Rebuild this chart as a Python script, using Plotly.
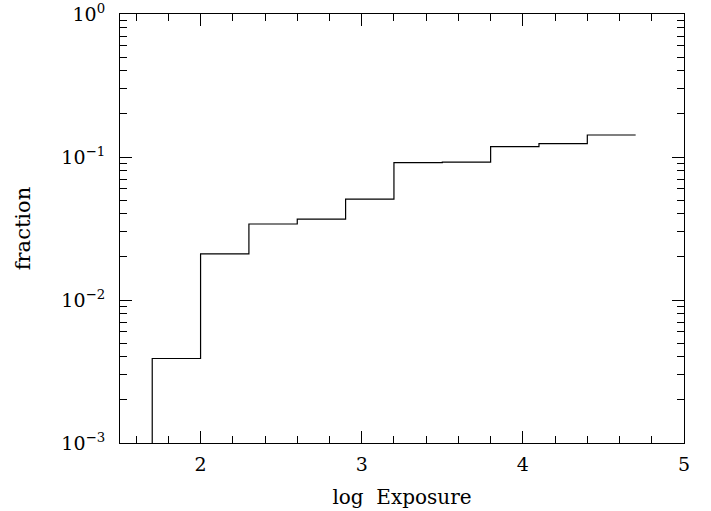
import plotly.graph_objects as go

# Histogram bin edges (log Exposure) and fraction per bin
bin_edges = [1.7, 2.0, 2.3, 2.6, 2.9, 3.2, 3.5, 3.8, 4.1, 4.4, 4.7]
fractions = [0.0039, 0.021, 0.034, 0.0368, 0.0508, 0.0912, 0.092, 0.118, 0.124, 0.1425]
floor_value = 1e-4  # below the axis: the first step rises from the bottom

y_tickvals = [1e-3, 1e-2, 1e-1, 1]
y_ticktext = ["10<sup>\u22123</sup>", "10<sup>\u22122</sup>", "10<sup>\u22121</sup>", "10<sup>0</sup>"]
x_tickvals = [2, 3, 4, 5]

xs = [bin_edges[0]] + bin_edges
ys = [floor_value] + fractions + [fractions[-1]]

fig = go.Figure()
fig.add_trace(go.Scatter(x=xs, y=ys, mode="lines", line_shape="hv",
                         line=dict(color="black", width=1.2), cliponaxis=True,
                         showlegend=False, hoverinfo="skip"))

fig.update_layout(
    width=711, height=511,
    margin=dict(l=120, r=27, t=14, b=68),
    paper_bgcolor="white", plot_bgcolor="white",
    font=dict(family="DejaVu Serif", size=19, color="black"),
    xaxis=dict(range=[1.5, 5], tickvals=x_tickvals, ticks="inside", ticklen=12,
               tickwidth=1, tickcolor="black", showline=True, linecolor="black",
               linewidth=1.2, mirror="allticks", showgrid=False, zeroline=False,
               automargin=False, tickfont=dict(size=19), ticklabelstandoff=4,
               minor=dict(ticks="inside", dtick=0.2, ticklen=7, tickcolor="black",
                          tickwidth=1, showgrid=False),
               title=dict(text="log  Exposure", font=dict(size=20), standoff=16)),
    yaxis=dict(type="log", range=[-3, 0], tickvals=y_tickvals, ticktext=y_ticktext,
               ticks="inside", ticklen=12, tickwidth=1, tickcolor="black",
               showline=True, linecolor="black", linewidth=1.2, mirror="allticks",
               showgrid=False, zeroline=False, automargin=False,
               tickfont=dict(size=19), ticklabelstandoff=10,
               minor=dict(ticks="inside", dtick="D1", ticklen=7, tickcolor="black",
                          tickwidth=1, showgrid=False),
               title=dict(text="fraction", font=dict(size=21), standoff=24)),
)

fig.write_html("out.html")
